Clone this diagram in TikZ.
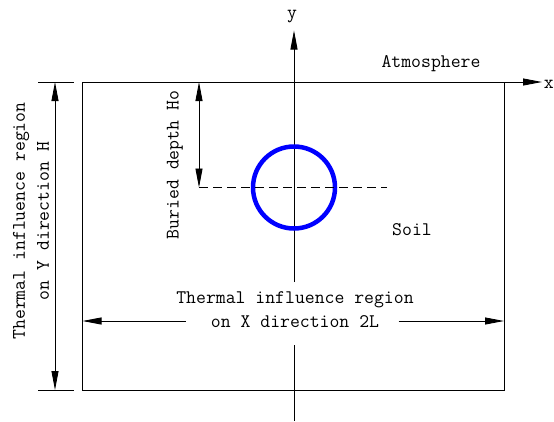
\documentclass[tikz,border=0pt]{standalone}
\usetikzlibrary{arrows.meta}

\begin{document}
\begin{tikzpicture}[x=1pt,y=-1pt,line width=0.9pt,
    every node/.style={font=\ttfamily\fontsize{19.2}{24}\selectfont,inner sep=0pt},
    dimline/.style={{Triangle[length=19pt,width=7pt]}-{Triangle[length=19pt,width=7pt]}},
    halfdim/.style={-{Triangle[length=19pt,width=7pt]}},
    axis/.style={-{Triangle[length=19pt,width=7pt]}}]
\useasboundingbox (0,0) rectangle (554,421);
% soil region
\coordinate (NW) at (82.5,82);
\coordinate (SE) at (504,390);
\draw (NW) rectangle (SE);
% axes
\coordinate (xtip) at (542,82);
\coordinate (ytip) at (294,30.5);
\coordinate (ybot) at (294,421);
\coordinate (gapT) at (294,282);
\coordinate (gapB) at (294,345);
\draw[axis] (NW) -- (xtip);
\draw[axis] (gapT) -- (ytip);
\draw (gapB) -- (ybot);
\node (ylab) at (292,17) {y};
\node[anchor=west] (xlab) at (543.5,84) {x};
% pipe
\coordinate (pipe) at (294,187.5);
\draw[blue,line width=4.5pt] (pipe) circle[radius=41pt];
% buried depth
\coordinate (dT) at (199,82);
\coordinate (dB) at (199,187.5);
\coordinate (dE) at (387,187.5);
\draw[dash pattern=on 9pt off 5pt] (dB) -- (dE);
\draw[dimline] (dT) -- (dB);
\node[rotate=90] (depth) at (175,165) {Buried depth Ho};
% region height
\coordinate (hT) at (55,82);
\coordinate (hB) at (55,390);
\draw ([xshift=-17pt]hT) -- ([xshift=19pt]hT);
\draw ([xshift=-17pt]hB) -- ([xshift=19pt]hB);
\draw[dimline] (hT) -- (hB);
\node[rotate=90,align=center] (hlab) at (31,221) {Thermal influence region\\on Y direction H};
% region width
\coordinate (gapL) at (185.5,321);
\coordinate (gapR) at (398.6,321);
\draw[halfdim] (gapL) -- (NW |- gapL);
\draw[halfdim] (gapR) -- (SE |- gapR);
\node[align=center] (wlab) at (295,310) {Thermal influence region\\on X direction 2L};
% labels
\node (atm) at (431,64) {Atmosphere};
\node (soil) at (412,230) {Soil};
\end{tikzpicture}
\end{document}
